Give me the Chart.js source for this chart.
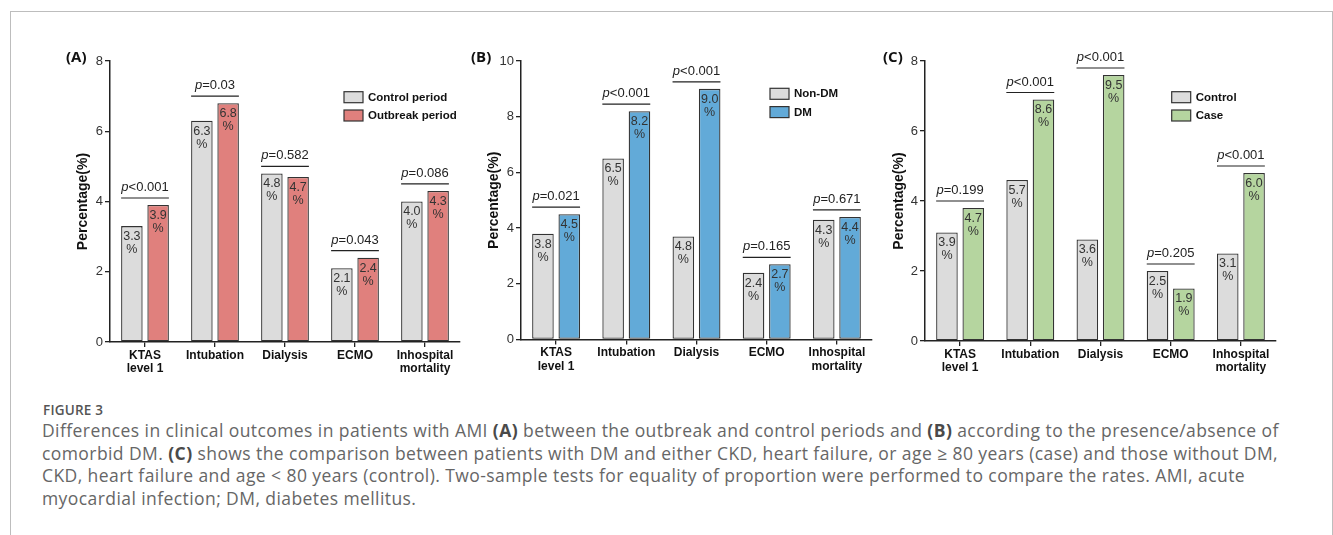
<!DOCTYPE html>
<html>
<head>
<meta charset="utf-8">
<script src="https://cdn.jsdelivr.net/npm/chart.js@4.4.1/dist/chart.umd.min.js"></script>
<style>
  body { margin: 0; background: #fff; width: 1333px; height: 535px; overflow: hidden; position: relative; }
  .frame { position: absolute; left: 10px; top: 11px; width: 1323px; height: 600px; border: 1.5px solid #bdbdbd; border-bottom: none; box-sizing: border-box; }
  canvas { position: absolute; }
  .tag { position: absolute; font: bold 15px "Open Sans", sans-serif; color: #111; line-height: 20px; }
  .fig { position: absolute; left: 43px; top: 401px; font: 600 13.5px "Open Sans", sans-serif; color: #555; letter-spacing: 0.2px; }
  .cap { position: absolute; left: 42px; font: 17.5px "Open Sans", sans-serif; color: #666; white-space: nowrap; line-height: 22px; letter-spacing: 0.42px; }
  .cap b { color: #4a4a4a; }
</style>
</head>
<body>
<div class="frame"></div>
<canvas id="chartA" width="450" height="345" style="left:20px;top:40px"></canvas>
<canvas id="chartB" width="410" height="345" style="left:470px;top:40px"></canvas>
<canvas id="chartC" width="430" height="345" style="left:880px;top:40px"></canvas>
<div class="tag" style="left:66px;top:46px">(A)</div>
<div class="tag" style="left:471px;top:46px">(B)</div>
<div class="tag" style="left:883px;top:46px">(C)</div>

<div class="fig">FIGURE 3</div>
<div class="cap" style="top:419px">Differences in clinical outcomes in patients with AMI <b>(A)</b> between the outbreak and control periods and <b>(B)</b> according to the presence/absence of</div>
<div class="cap" style="top:441.5px">comorbid DM. <b>(C)</b> shows the comparison between patients with DM and either CKD, heart failure, or age ≥ 80 years (case) and those without DM,</div>
<div class="cap" style="top:464px">CKD, heart failure and age &lt; 80 years (control). Two-sample tests for equality of proportion were performed to compare the rates. AMI, acute</div>
<div class="cap" style="top:486.5px">myocardial infection; DM, diabetes mellitus.</div>

<script>
// categories shared by all three panels
const categories = [['KTAS', 'level 1'], 'Intubation', 'Dialysis', 'ECMO', ['Inhospital', 'mortality']];

// (A) control vs outbreak period
const controlPeriod = [3.3, 6.3, 4.8, 2.1, 4.0];
const outbreakPeriod = [3.9, 6.8, 4.7, 2.4, 4.3];
const pValuesA = ['<0.001', '=0.03', '=0.582', '=0.043', '=0.086'];

// (B) non-DM vs DM (bar heights as drawn, labels as printed)
const nonDM = [3.8, 6.5, 3.7, 2.4, 4.3];
const nonDMLabels = ['3.8', '6.5', '4.8', '2.4', '4.3'];
const dm = [4.5, 8.2, 9.0, 2.7, 4.4];
const dmLabels = ['4.5', '8.2', '9.0', '2.7', '4.4'];
const pValuesB = ['=0.021', '<0.001', '<0.001', '=0.165', '=0.671'];

// (C) control vs case
const controlC = [3.1, 4.6, 2.9, 2.0, 2.5];
const controlCLabels = ['3.9', '5.7', '3.6', '2.5', '3.1'];
const caseC = [3.8, 6.9, 7.6, 1.5, 4.8];
const caseCLabels = ['4.7', '8.6', '9.5', '1.9', '6.0'];
const pValuesC = ['=0.199', '<0.001', '<0.001', '=0.205', '<0.001'];

const FONT = '"Liberation Sans", Arial, sans-serif';
const GREY = '#dcdcdc';
const RED = '#e0807d';
const BLUE = '#62aad8';
const GREEN = '#b5d59f';

// draws value labels in bars, p-value brackets and the legend
const annotate = {
    id: 'annotate',
    afterDatasetsDraw(chart, args, opts) {
        const ctx = chart.ctx;
        const m0 = chart.getDatasetMeta(0);
        const m1 = chart.getDatasetMeta(1);
        ctx.save();

        // value labels
        ctx.textAlign = 'center';
        ctx.textBaseline = 'middle';
        ctx.fillStyle = '#333';
        ctx.font = '12.5px ' + FONT;
        chart.data.datasets.forEach((ds, i) => {
            chart.getDatasetMeta(i).data.forEach((bar, j) => {
                ctx.fillText(ds.valueLabels[j], bar.x, bar.y + 10.5);
                ctx.fillText('%', bar.x, bar.y + 23.5);
            });
        });

        // p-value brackets
        opts.p.forEach((txt, j) => {
            const a = m0.data[j];
            const b = m1.data[j];
            const x0 = a.x - a.width / 2;
            const x1 = b.x + b.width / 2;
            const y = Math.min(a.y, b.y) - 7;
            ctx.strokeStyle = '#222';
            ctx.lineWidth = 1.2;
            ctx.beginPath();
            ctx.moveTo(x0, y);
            ctx.lineTo(x1, y);
            ctx.stroke();

            ctx.textBaseline = 'alphabetic';
            ctx.textAlign = 'left';
            ctx.font = 'italic 13px ' + FONT;
            const wp = ctx.measureText('p').width;
            ctx.font = '13px ' + FONT;
            const wr = ctx.measureText(txt).width;
            const start = (x0 + x1) / 2 - (wp + wr) / 2;
            ctx.fillStyle = '#222';
            ctx.font = 'italic 13px ' + FONT;
            ctx.fillText('p', start, y - 7);
            ctx.font = '13px ' + FONT;
            ctx.fillText(txt, start + wp, y - 7);
        });

        // legend
        const lg = opts.legend;
        chart.data.datasets.forEach((ds, i) => {
            const by = lg.y + i * 18.3;
            ctx.fillStyle = ds.backgroundColor;
            ctx.fillRect(lg.x, by, 19, 11);
            ctx.strokeStyle = '#333';
            ctx.lineWidth = 1.2;
            ctx.strokeRect(lg.x, by, 19, 11);
            ctx.fillStyle = '#111';
            ctx.font = 'bold 11.5px ' + FONT;
            ctx.textAlign = 'left';
            ctx.textBaseline = 'middle';
            ctx.fillText(ds.label, lg.x + 24, by + 6);
        });
        ctx.restore();
    }
};

function makePanel(id, cfg) {
    const ctx = document.getElementById(id).getContext('2d');
    return new Chart(ctx, {
        type: 'bar',
        data: {
            labels: categories,
            datasets: cfg.series.map(s => ({
                label: s.label,
                data: s.data,
                valueLabels: s.labels,
                backgroundColor: s.color,
                borderColor: '#333',
                borderWidth: 1.3,
                borderSkipped: false,
                categoryPercentage: 0.75,
                barPercentage: 0.82,
            })),
        },
        options: {
            responsive: false,
            animation: false,
            layout: { padding: cfg.padding },
            plugins: {
                legend: { display: false },
                tooltip: { enabled: false },
                annotate: { p: cfg.p, legend: cfg.legend },
            },
            scales: {
                x: {
                    grid: { display: true, drawOnChartArea: false, offset: false, color: '#222', tickLength: 5, lineWidth: 1.3 },
                    border: { display: true, color: '#222', width: 1.5 },
                    ticks: { color: '#111', padding: 2, maxRotation: 0, autoSkip: false,
                        font: { family: FONT, size: 12, weight: 'bold', lineHeight: 1.1 } },
                    afterFit(s) { s.height = cfg.xHeight; },
                },
                y: {
                    min: 0,
                    max: cfg.yMax,
                    ticks: { stepSize: 2, color: '#333', padding: 2, font: { family: FONT, size: 13 } },
                    grid: { drawOnChartArea: false, color: '#222', tickLength: 5, lineWidth: 1.3 },
                    border: { display: true, color: '#222', width: 1.5 },
                    title: { display: true, text: 'Percentage(%)', color: '#111', padding: 0,
                        font: { family: FONT, size: 14, weight: 'bold' } },
                    afterFit(s) { s.width = cfg.yWidth; },
                },
            },
        },
        plugins: [annotate],
    });
}

makePanel('chartA', {
    series: [
        { label: 'Control period', data: controlPeriod, labels: controlPeriod.map(v => v.toFixed(1)), color: GREY },
        { label: 'Outbreak period', data: outbreakPeriod, labels: outbreakPeriod.map(v => v.toFixed(1)), color: RED },
    ],
    p: pValuesA,
    yMax: 8,
    padding: { left: 55, right: 10, top: 21, bottom: 0 },
    yWidth: 35,
    xHeight: 43,
    legend: { x: 324, y: 51.7 },
});

makePanel('chartB', {
    series: [
        { label: 'Non-DM', data: nonDM, labels: nonDMLabels, color: GREY },
        { label: 'DM', data: dm, labels: dmLabels, color: BLUE },
    ],
    p: pValuesB,
    yMax: 10,
    padding: { left: 16, right: 8, top: 21, bottom: 0 },
    yWidth: 35,
    xHeight: 45.5,
    legend: { x: 300, y: 48.3 },
});

makePanel('chartC', {
    series: [
        { label: 'Control', data: controlC, labels: controlCLabels, color: GREY },
        { label: 'Case', data: caseC, labels: caseCLabels, color: GREEN },
    ],
    p: pValuesC,
    yMax: 8,
    padding: { left: 11, right: 34, top: 21, bottom: 0 },
    yWidth: 34,
    xHeight: 44,
    legend: { x: 291.7, y: 51.7 },
});
</script>
</body>
</html>
